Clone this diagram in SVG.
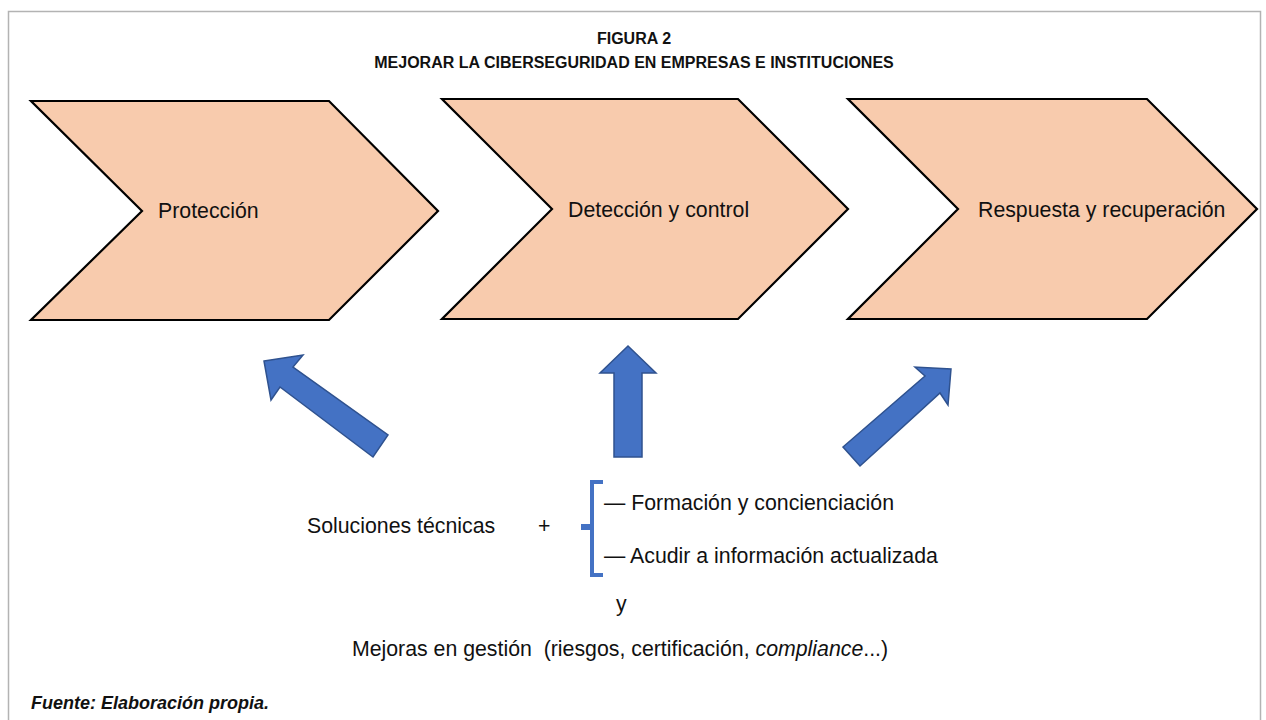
<svg xmlns="http://www.w3.org/2000/svg" width="1266" height="720" viewBox="0 0 1266 720">
<style>
text{font-family:"Liberation Sans",Arial,sans-serif;fill:#111}
.title{font-size:16px;font-weight:bold;text-anchor:middle}
.body{font-size:21.3px}
.chev{fill:#F8CBAD;stroke:#000;stroke-width:2.2;stroke-linejoin:miter}
.arrow{fill:#4472C4;stroke:#2F528F;stroke-width:1.5;stroke-linejoin:miter}
.brace{fill:none;stroke:#4472C4;stroke-width:4}
</style>
<rect x="0" y="0" width="1266" height="720" fill="#fff"/>
<rect x="8.5" y="11.5" width="1252" height="730" fill="none" stroke="#b3b3b3" stroke-width="1.5"/>
<g id="title">
<text class="title" x="634" y="44">FIGURA 2</text>
<text class="title" x="634" y="68">MEJORAR LA CIBERSEGURIDAD EN EMPRESAS E INSTITUCIONES</text>
</g>
<g id="proteccion">
<polygon class="chev" points="31,101 329,101 438,211 329,320 31,320 142,211"/>
<text class="body" x="158" y="218">Protección</text>
</g>
<g id="deteccion">
<polygon class="chev" points="442,99 738,99 848,209 738,319 442,319 552,209"/>
<text class="body" x="568" y="217">Detección y control</text>
</g>
<g id="respuesta">
<polygon class="chev" points="848,99 1147,99 1257,209 1147,319 848,319 958,209"/>
<text class="body" x="978" y="217">Respuesta y recuperación</text>
</g>
<g id="connectors">
<polygon class="arrow" points="264,361 303,355 293,367 388,435 373,457 280,387 271,400"/>
<polygon class="arrow" points="628,346 656,373 642,373 642,457 614,457 614,373 600,373"/>
<polygon class="arrow" points="951,369 948,405 940,393 860,466 843,447 925,376 915,367"/>
</g>
<g id="medidas">
<text class="body" x="307" y="533">Soluciones técnicas</text>
<text class="body" x="538" y="533">+</text>
<path class="brace" d="M603,482 H592 V575 H603"/>
<path d="M581,527 H592" stroke="#4472C4" stroke-width="6" fill="none"/>
<text class="body" x="604" y="510">— Formación y concienciación</text>
<text class="body" x="604" y="563">— Acudir a información actualizada</text>
<text class="body" x="616" y="611">y</text>
<text class="body" x="620" y="656" text-anchor="middle" xml:space="preserve">Mejoras en gestión  (riesgos, certificación, <tspan font-style="italic">compliance</tspan>...)</text>
</g>
<g id="fuente">
<text x="31" y="709" font-size="18" font-weight="bold" font-style="italic">Fuente: Elaboración propia.</text>
</g>
</svg>
